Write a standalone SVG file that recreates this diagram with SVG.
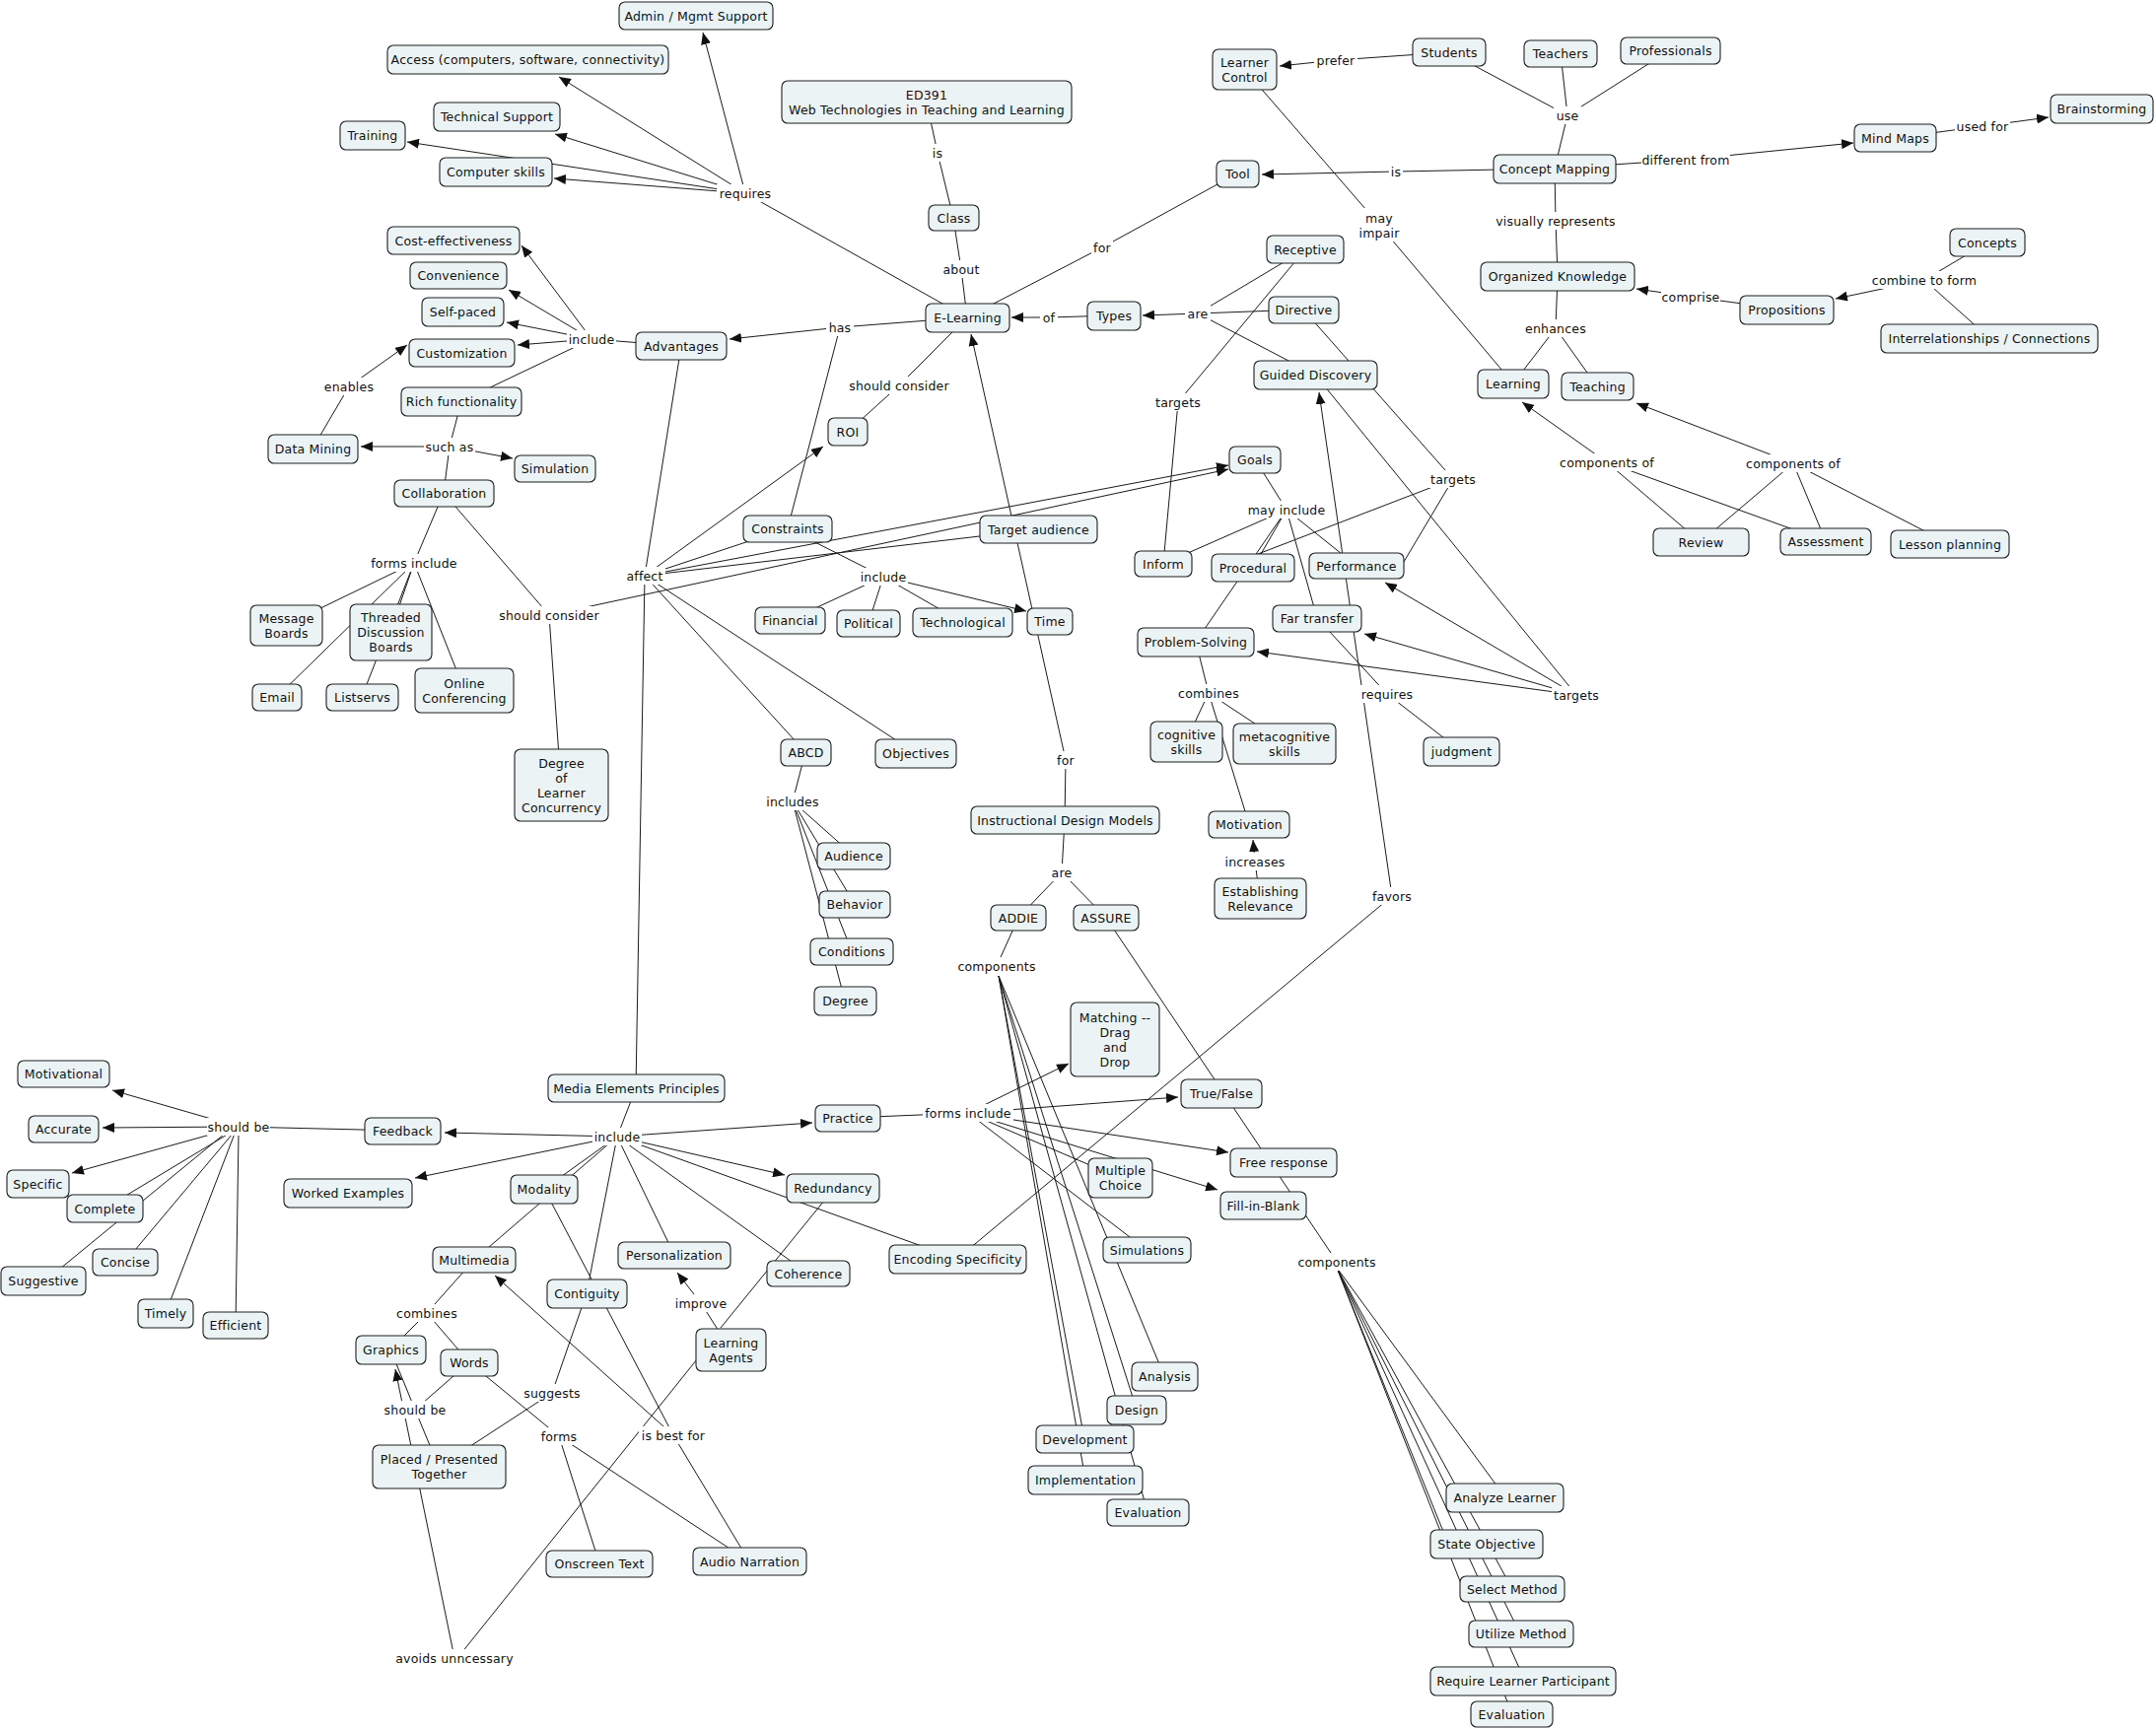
<svg xmlns="http://www.w3.org/2000/svg" width="2187" height="1754" viewBox="0 0 2187 1754">
<defs>
<marker id="ah" markerUnits="userSpaceOnUse" markerWidth="13" markerHeight="10" refX="12" refY="5" orient="auto"><path d="M0,0 L12,5 L0,10 z" fill="#111"/></marker>
<style>
.c{stroke:#1a1a1a;stroke-width:1;fill:none}
.a{marker-end:url(#ah)}
.node rect{fill:#ecf3f5;stroke:#1e1e1e;stroke-width:1.1}
.node text,.lbl text{font-family:"DejaVu Sans",Verdana,sans-serif;font-size:12.5px;letter-spacing:0.2px;text-anchor:middle;dominant-baseline:central;fill:#111}
.lbl rect{fill:#fff}
</style>
</defs>
<rect width="2187" height="1754" fill="#fff"/>
<g id="connectors">
<path class="c" d="M940,104 L951,155 M951,155 L967,221 M967,221 L975,273 M975,273 L981,322 M981,322 L756,196 M981,322 L852,332 M852,332 L799,536 M981,322 L912,391 M912,391 L860,438 M691,351 L600,344 M600,344 L468,407 M468,407 L456,453 M456,453 L450,500 M317,455 L354,392 M450,500 L420,571 M420,571 L290,634 M420,571 L396,641 M420,571 L281,707 M420,571 L367,707 M420,571 L471,700 M450,500 L557,624 M557,624 L569,796 M691,351 L654,584 M654,584 L645,1104 M654,584 L799,536 M654,584 L1053,537 M654,584 L817,763 M654,584 L929,764 M799,536 L896,585 M896,585 L801,629 M896,585 L881,632 M896,585 L976,631 M817,763 L804,813 M804,813 L866,868 M804,813 L867,917 M804,813 L864,965 M804,813 L857,1015"/>
<path class="c" d="M1255,176 L1118,251 M1118,251 L981,322 M1577,171 L1416,174 M1470,53 L1355,61 M1470,53 L1590,117 M1583,54 L1590,117 M1694,51 L1590,117 M1590,117 L1577,171 M1577,171 L1710,162 M1922,140 L2011,128 M1577,171 L1578,224 M1578,224 L1580,280 M1812,314 L1715,301 M2016,246 L1952,284 M2018,343 L1952,284 M1580,280 L1578,333 M1578,333 L1535,389 M1578,333 L1620,392 M1262,70 L1399,228 M1399,228 L1535,389 M1725,550 L1630,469 M1852,549 L1630,469 M1819,470 L1725,550 M1819,470 L1852,549 M1819,470 L1978,552 M1130,320 L1064,322 M1324,253 L1215,318 M1322,314 L1215,318 M1334,380 L1215,318 M1324,253 L1195,408 M1195,408 L1180,572 M1322,314 L1474,486 M1474,486 L1250,572 M1474,486 L1415,585 M1334,380 L1599,705 M1273,466 L1305,517 M1305,517 L1180,572 M1305,517 L1271,576 M1305,517 L1213,651 M1305,517 L1376,574 M1305,517 L1336,627 M1336,627 L1407,704 M1407,704 L1482,762 M1213,651 L1226,703 M1226,703 L1203,752 M1226,703 L1303,754 M1226,703 L1267,836 M1278,911 L1273,874 M1412,909 L971,1277"/>
<path class="c" d="M1080,832 L1081,771 M1080,832 L1077,885 M1077,885 L1033,931 M1077,885 L1122,931 M1033,931 L1011,980 M1013,990 L1181,1396 M1013,990 L1153,1430 M1013,990 L1100,1460 M1013,990 L1101,1501 M1013,990 L1164,1534 M1122,931 L1356,1280 M1356,1286 L1527,1519 M1356,1286 L1469,1566 M1356,1286 L1534,1612 M1356,1286 L1542,1657 M1356,1286 L1547,1705 M1356,1286 L1534,1739 M860,1134 L982,1129 M982,1129 L1136,1195 M982,1129 L1163,1268"/>
<path class="c" d="M645,1104 L626,1153 M626,1153 L552,1206 M626,1153 L481,1278 M626,1153 L595,1312 M626,1153 L684,1273 M626,1153 L820,1292 M626,1153 L971,1277 M408,1147 L242,1143 M232,1150 L106,1226 M228,1150 L50,1296 M236,1150 L127,1280 M238,1150 L168,1332 M242,1150 L239,1344 M481,1278 L433,1332 M433,1332 L396,1369 M433,1332 L476,1382 M476,1382 L421,1430 M396,1369 L421,1430 M421,1430 L445,1488 M595,1312 L560,1413 M560,1413 L445,1488 M476,1382 L567,1457 M567,1457 L608,1586 M567,1457 L760,1584 M552,1206 L683,1456 M683,1456 L760,1584 M741,1369 L711,1322 M715,1369 L468,1677 M731,1347 L845,1207"/>
<path class="c a" d="M756,196 L713,33"/>
<path class="c a" d="M756,196 L567,78"/>
<path class="c a" d="M756,196 L563,136"/>
<path class="c a" d="M756,196 L562,181"/>
<path class="c a" d="M756,196 L413,144"/>
<path class="c a" d="M852,332 L740,344"/>
<path class="c a" d="M600,344 L529,249"/>
<path class="c a" d="M600,344 L516,294"/>
<path class="c a" d="M600,344 L514,327"/>
<path class="c a" d="M600,344 L525,350"/>
<path class="c a" d="M354,392 L413,350"/>
<path class="c a" d="M456,453 L366,453"/>
<path class="c a" d="M456,453 L520,465"/>
<path class="c a" d="M654,584 L835,453"/>
<path class="c a" d="M654,584 L1246,472"/>
<path class="c a" d="M557,624 L1246,476"/>
<path class="c a" d="M896,585 L1041,620"/>
<path class="c a" d="M1081,771 L985,339"/>
<path class="c a" d="M1064,322 L1026,322"/>
<path class="c a" d="M1215,318 L1159,320"/>
<path class="c a" d="M1416,174 L1280,177"/>
<path class="c a" d="M1355,61 L1298,67"/>
<path class="c a" d="M1710,162 L1880,145"/>
<path class="c a" d="M2011,128 L2078,119"/>
<path class="c a" d="M1715,301 L1660,293"/>
<path class="c a" d="M1952,284 L1862,303"/>
<path class="c a" d="M1630,469 L1544,408"/>
<path class="c a" d="M1819,470 L1660,409"/>
<path class="c a" d="M1412,909 L1338,398"/>
<path class="c a" d="M1599,705 L1405,591"/>
<path class="c a" d="M1599,705 L1384,643"/>
<path class="c a" d="M1599,705 L1275,661"/>
<path class="c a" d="M1273,874 L1271,852"/>
<path class="c a" d="M982,1129 L1084,1079"/>
<path class="c a" d="M982,1129 L1195,1113"/>
<path class="c a" d="M982,1129 L1246,1169"/>
<path class="c a" d="M982,1129 L1235,1207"/>
<path class="c a" d="M626,1153 L451,1149"/>
<path class="c a" d="M626,1153 L421,1195"/>
<path class="c a" d="M626,1153 L796,1192"/>
<path class="c a" d="M626,1153 L824,1139"/>
<path class="c a" d="M242,1143 L114,1106"/>
<path class="c a" d="M242,1143 L104,1144"/>
<path class="c a" d="M242,1143 L73,1190"/>
<path class="c a" d="M683,1456 L502,1294"/>
<path class="c a" d="M711,1322 L687,1291"/>
<path class="c a" d="M461,1682 L401,1389"/>
</g>
<g id="labels">
<g class="lbl"><rect x="727" y="187" width="58" height="18"/><text x="756" y="196">requires</text></g>
<g class="lbl"><rect x="944" y="146" width="14" height="18"/><text x="951" y="155">is</text></g>
<g class="lbl"><rect x="954" y="264" width="42" height="18"/><text x="975" y="273">about</text></g>
<g class="lbl"><rect x="838" y="323" width="28" height="18"/><text x="852" y="332">has</text></g>
<g class="lbl"><rect x="575" y="335" width="50" height="18"/><text x="600" y="344">include</text></g>
<g class="lbl"><rect x="859" y="382" width="106" height="18"/><text x="912" y="391">should consider</text></g>
<g class="lbl"><rect x="1055" y="313" width="18" height="18"/><text x="1064" y="322">of</text></g>
<g class="lbl"><rect x="633" y="575" width="42" height="18"/><text x="654" y="584">affect</text></g>
<g class="lbl"><rect x="871" y="576" width="50" height="18"/><text x="896" y="585">include</text></g>
<g class="lbl"><rect x="328" y="383" width="52" height="18"/><text x="354" y="392">enables</text></g>
<g class="lbl"><rect x="430" y="444" width="52" height="18"/><text x="456" y="453">such as</text></g>
<g class="lbl"><rect x="374" y="562" width="92" height="18"/><text x="420" y="571">forms include</text></g>
<g class="lbl"><rect x="504" y="615" width="106" height="18"/><text x="557" y="624">should consider</text></g>
<g class="lbl"><rect x="1333" y="52" width="44" height="18"/><text x="1355" y="61">prefer</text></g>
<g class="lbl"><rect x="1576" y="108" width="28" height="18"/><text x="1590" y="117">use</text></g>
<g class="lbl"><rect x="1409" y="165" width="14" height="18"/><text x="1416" y="174">is</text></g>
<g class="lbl"><rect x="1376" y="211" width="46" height="34"/><text x="1399" y="221">may</text><text x="1399" y="236">impair</text></g>
<g class="lbl"><rect x="1107" y="242" width="22" height="18"/><text x="1118" y="251">for</text></g>
<g class="lbl"><rect x="1515" y="215" width="126" height="18"/><text x="1578" y="224">visually represents</text></g>
<g class="lbl"><rect x="1202" y="309" width="26" height="18"/><text x="1215" y="318">are</text></g>
<g class="lbl"><rect x="1547" y="324" width="62" height="18"/><text x="1578" y="333">enhances</text></g>
<g class="lbl"><rect x="1170" y="399" width="50" height="18"/><text x="1195" y="408">targets</text></g>
<g class="lbl"><rect x="1449" y="477" width="50" height="18"/><text x="1474" y="486">targets</text></g>
<g class="lbl"><rect x="1267" y="508" width="76" height="18"/><text x="1305" y="517">may include</text></g>
<g class="lbl"><rect x="1582" y="460" width="96" height="18"/><text x="1630" y="469">components of</text></g>
<g class="lbl"><rect x="1771" y="461" width="96" height="18"/><text x="1819" y="470">components of</text></g>
<g class="lbl"><rect x="1665" y="153" width="90" height="18"/><text x="1710" y="162">different from</text></g>
<g class="lbl"><rect x="1983" y="119" width="56" height="18"/><text x="2011" y="128">used for</text></g>
<g class="lbl"><rect x="1685" y="292" width="60" height="18"/><text x="1715" y="301">comprise</text></g>
<g class="lbl"><rect x="1900" y="275" width="104" height="18"/><text x="1952" y="284">combine to form</text></g>
<g class="lbl"><rect x="776" y="804" width="56" height="18"/><text x="804" y="813">includes</text></g>
<g class="lbl"><rect x="1070" y="762" width="22" height="18"/><text x="1081" y="771">for</text></g>
<g class="lbl"><rect x="1064" y="876" width="26" height="18"/><text x="1077" y="885">are</text></g>
<g class="lbl"><rect x="973" y="971" width="76" height="18"/><text x="1011" y="980">components</text></g>
<g class="lbl"><rect x="601" y="1144" width="50" height="18"/><text x="626" y="1153">include</text></g>
<g class="lbl"><rect x="936" y="1120" width="92" height="18"/><text x="982" y="1129">forms include</text></g>
<g class="lbl"><rect x="1195" y="694" width="62" height="18"/><text x="1226" y="703">combines</text></g>
<g class="lbl"><rect x="1378" y="695" width="58" height="18"/><text x="1407" y="704">requires</text></g>
<g class="lbl"><rect x="1574" y="696" width="50" height="18"/><text x="1599" y="705">targets</text></g>
<g class="lbl"><rect x="1242" y="865" width="62" height="18"/><text x="1273" y="874">increases</text></g>
<g class="lbl"><rect x="1390" y="900" width="44" height="18"/><text x="1412" y="909">favors</text></g>
<g class="lbl"><rect x="210" y="1134" width="64" height="18"/><text x="242" y="1143">should be</text></g>
<g class="lbl"><rect x="402" y="1323" width="62" height="18"/><text x="433" y="1332">combines</text></g>
<g class="lbl"><rect x="389" y="1421" width="64" height="18"/><text x="421" y="1430">should be</text></g>
<g class="lbl"><rect x="403" y="1673" width="116" height="18"/><text x="461" y="1682">avoids unncessary</text></g>
<g class="lbl"><rect x="531" y="1404" width="58" height="18"/><text x="560" y="1413">suggests</text></g>
<g class="lbl"><rect x="548" y="1448" width="38" height="18"/><text x="567" y="1457">forms</text></g>
<g class="lbl"><rect x="648" y="1447" width="70" height="18"/><text x="683" y="1456">is best for</text></g>
<g class="lbl"><rect x="684" y="1313" width="54" height="18"/><text x="711" y="1322">improve</text></g>
<g class="lbl"><rect x="1318" y="1271" width="76" height="18"/><text x="1356" y="1280">components</text></g>
</g>
<g id="nodes">
<g id="n-admin" class="node"><rect x="628" y="2" width="156" height="28" rx="6"/><text x="706" y="16">Admin / Mgmt Support</text></g>
<g id="n-access" class="node"><rect x="393" y="46" width="285" height="29" rx="6"/><text x="535.5" y="60.5">Access (computers, software, connectivity)</text></g>
<g id="n-techsupport" class="node"><rect x="440" y="104" width="128" height="29" rx="6"/><text x="504" y="118.5">Technical Support</text></g>
<g id="n-training" class="node"><rect x="345" y="123" width="66" height="29" rx="6"/><text x="378" y="137.5">Training</text></g>
<g id="n-compskills" class="node"><rect x="446" y="160" width="114" height="29" rx="6"/><text x="503" y="174.5">Computer skills</text></g>
<g id="n-ed391" class="node"><rect x="793" y="82" width="294" height="43" rx="6"/><text x="940" y="96">ED391</text><text x="940" y="111">Web Technologies in Teaching and Learning</text></g>
<g id="n-class" class="node"><rect x="942" y="208" width="51" height="26" rx="6"/><text x="967.5" y="221">Class</text></g>
<g id="n-elearning" class="node"><rect x="939" y="308" width="85" height="29" rx="6"/><text x="981.5" y="322.5">E-Learning</text></g>
<g id="n-costeff" class="node"><rect x="393" y="230" width="134" height="28" rx="6"/><text x="460" y="244">Cost-effectiveness</text></g>
<g id="n-convenience" class="node"><rect x="416" y="266" width="98" height="27" rx="6"/><text x="465" y="279.5">Convenience</text></g>
<g id="n-selfpaced" class="node"><rect x="428" y="302" width="83" height="29" rx="6"/><text x="469.5" y="316.5">Self-paced</text></g>
<g id="n-customization" class="node"><rect x="415" y="344" width="107" height="28" rx="6"/><text x="468.5" y="358">Customization</text></g>
<g id="n-richfunc" class="node"><rect x="407" y="393" width="122" height="29" rx="6"/><text x="468" y="407.5">Rich functionality</text></g>
<g id="n-advantages" class="node"><rect x="645" y="337" width="92" height="28" rx="6"/><text x="691" y="351">Advantages</text></g>
<g id="n-datamining" class="node"><rect x="272" y="441" width="91" height="29" rx="6"/><text x="317.5" y="455.5">Data Mining</text></g>
<g id="n-simulation" class="node"><rect x="522" y="462" width="82" height="27" rx="6"/><text x="563" y="475.5">Simulation</text></g>
<g id="n-collaboration" class="node"><rect x="400" y="487" width="101" height="27" rx="6"/><text x="450.5" y="500.5">Collaboration</text></g>
<g id="n-roi" class="node"><rect x="840" y="424" width="40" height="28" rx="6"/><text x="860" y="438">ROI</text></g>
<g id="n-constraints" class="node"><rect x="754" y="523" width="90" height="27" rx="6"/><text x="799" y="536.5">Constraints</text></g>
<g id="n-target" class="node"><rect x="994" y="523" width="119" height="28" rx="6"/><text x="1053.5" y="537">Target audience</text></g>
<g id="n-msgboards" class="node"><rect x="254" y="614" width="73" height="41" rx="6"/><text x="290.5" y="627">Message</text><text x="290.5" y="642">Boards</text></g>
<g id="n-threaded" class="node"><rect x="355" y="613" width="83" height="57" rx="6"/><text x="396.5" y="626.5">Threaded</text><text x="396.5" y="641.5">Discussion</text><text x="396.5" y="656.5">Boards</text></g>
<g id="n-email" class="node"><rect x="256" y="694" width="50" height="27" rx="6"/><text x="281" y="707.5">Email</text></g>
<g id="n-listservs" class="node"><rect x="331" y="694" width="73" height="27" rx="6"/><text x="367.5" y="707.5">Listservs</text></g>
<g id="n-online" class="node"><rect x="421" y="678" width="100" height="45" rx="6"/><text x="471" y="693">Online</text><text x="471" y="708">Conferencing</text></g>
<g id="n-degreelc" class="node"><rect x="522" y="760" width="95" height="73" rx="6"/><text x="569.5" y="774">Degree</text><text x="569.5" y="789">of</text><text x="569.5" y="804">Learner</text><text x="569.5" y="819">Concurrency</text></g>
<g id="n-financial" class="node"><rect x="766" y="616" width="71" height="27" rx="6"/><text x="801.5" y="629.5">Financial</text></g>
<g id="n-political" class="node"><rect x="849" y="619" width="64" height="27" rx="6"/><text x="881" y="632.5">Political</text></g>
<g id="n-technological" class="node"><rect x="926" y="617" width="101" height="29" rx="6"/><text x="976.5" y="631.5">Technological</text></g>
<g id="n-time" class="node"><rect x="1042" y="617" width="46" height="27" rx="6"/><text x="1065" y="630.5">Time</text></g>
<g id="n-abcd" class="node"><rect x="792" y="750" width="51" height="27" rx="6"/><text x="817.5" y="763.5">ABCD</text></g>
<g id="n-objectives" class="node"><rect x="888" y="750" width="82" height="29" rx="6"/><text x="929" y="764.5">Objectives</text></g>
<g id="n-audience" class="node"><rect x="829" y="855" width="74" height="27" rx="6"/><text x="866" y="868.5">Audience</text></g>
<g id="n-behavior" class="node"><rect x="831" y="904" width="72" height="27" rx="6"/><text x="867" y="917.5">Behavior</text></g>
<g id="n-conditions" class="node"><rect x="822" y="952" width="84" height="27" rx="6"/><text x="864" y="965.5">Conditions</text></g>
<g id="n-degree" class="node"><rect x="826" y="1001" width="63" height="29" rx="6"/><text x="857.5" y="1015.5">Degree</text></g>
<g id="n-idm" class="node"><rect x="985" y="818" width="191" height="28" rx="6"/><text x="1080.5" y="832">Instructional Design Models</text></g>
<g id="n-addie" class="node"><rect x="1005" y="918" width="56" height="26" rx="6"/><text x="1033" y="931">ADDIE</text></g>
<g id="n-assure" class="node"><rect x="1089" y="918" width="66" height="26" rx="6"/><text x="1122" y="931">ASSURE</text></g>
<g id="n-mep" class="node"><rect x="556" y="1090" width="179" height="28" rx="6"/><text x="645.5" y="1104">Media Elements Principles</text></g>
<g id="n-practice" class="node"><rect x="827" y="1121" width="66" height="27" rx="6"/><text x="860" y="1134.5">Practice</text></g>
<g id="n-learnerctrl" class="node"><rect x="1230" y="50" width="65" height="41" rx="6"/><text x="1262.5" y="63">Learner</text><text x="1262.5" y="78">Control</text></g>
<g id="n-students" class="node"><rect x="1433" y="39" width="74" height="28" rx="6"/><text x="1470" y="53">Students</text></g>
<g id="n-teachers" class="node"><rect x="1546" y="41" width="74" height="27" rx="6"/><text x="1583" y="54.5">Teachers</text></g>
<g id="n-professionals" class="node"><rect x="1644" y="38" width="101" height="27" rx="6"/><text x="1694.5" y="51.5">Professionals</text></g>
<g id="n-conceptmap" class="node"><rect x="1515" y="157" width="124" height="29" rx="6"/><text x="1577" y="171.5">Concept Mapping</text></g>
<g id="n-tool" class="node"><rect x="1234" y="163" width="43" height="27" rx="6"/><text x="1255.5" y="176.5">Tool</text></g>
<g id="n-mindmaps" class="node"><rect x="1881" y="126" width="83" height="28" rx="6"/><text x="1922.5" y="140">Mind Maps</text></g>
<g id="n-brainstorming" class="node"><rect x="2080" y="96" width="104" height="29" rx="6"/><text x="2132" y="110.5">Brainstorming</text></g>
<g id="n-orgknow" class="node"><rect x="1502" y="266" width="156" height="29" rx="6"/><text x="1580" y="280.5">Organized Knowledge</text></g>
<g id="n-concepts" class="node"><rect x="1978" y="232" width="76" height="28" rx="6"/><text x="2016" y="246">Concepts</text></g>
<g id="n-propositions" class="node"><rect x="1765" y="300" width="95" height="29" rx="6"/><text x="1812.5" y="314.5">Propositions</text></g>
<g id="n-interrel" class="node"><rect x="1908" y="329" width="220" height="29" rx="6"/><text x="2018" y="343.5">Interrelationships / Connections</text></g>
<g id="n-receptive" class="node"><rect x="1285" y="239" width="78" height="28" rx="6"/><text x="1324" y="253">Receptive</text></g>
<g id="n-types" class="node"><rect x="1103" y="306" width="54" height="29" rx="6"/><text x="1130" y="320.5">Types</text></g>
<g id="n-directive" class="node"><rect x="1287" y="301" width="71" height="27" rx="6"/><text x="1322.5" y="314.5">Directive</text></g>
<g id="n-guided" class="node"><rect x="1272" y="366" width="125" height="29" rx="6"/><text x="1334.5" y="380.5">Guided Discovery</text></g>
<g id="n-learning" class="node"><rect x="1499" y="375" width="72" height="29" rx="6"/><text x="1535" y="389.5">Learning</text></g>
<g id="n-teaching" class="node"><rect x="1584" y="378" width="73" height="28" rx="6"/><text x="1620.5" y="392">Teaching</text></g>
<g id="n-goals" class="node"><rect x="1247" y="453" width="52" height="27" rx="6"/><text x="1273" y="466.5">Goals</text></g>
<g id="n-inform" class="node"><rect x="1151" y="559" width="58" height="26" rx="6"/><text x="1180" y="572">Inform</text></g>
<g id="n-procedural" class="node"><rect x="1229" y="562" width="84" height="28" rx="6"/><text x="1271" y="576">Procedural</text></g>
<g id="n-performance" class="node"><rect x="1328" y="561" width="96" height="26" rx="6"/><text x="1376" y="574">Performance</text></g>
<g id="n-review" class="node"><rect x="1677" y="536" width="97" height="28" rx="6"/><text x="1725.5" y="550">Review</text></g>
<g id="n-assessment" class="node"><rect x="1806" y="536" width="92" height="27" rx="6"/><text x="1852" y="549.5">Assessment</text></g>
<g id="n-lessonplan" class="node"><rect x="1918" y="538" width="120" height="28" rx="6"/><text x="1978" y="552">Lesson planning</text></g>
<g id="n-fartransfer" class="node"><rect x="1291" y="614" width="90" height="27" rx="6"/><text x="1336" y="627.5">Far transfer</text></g>
<g id="n-probsolv" class="node"><rect x="1154" y="637" width="118" height="29" rx="6"/><text x="1213" y="651.5">Problem-Solving</text></g>
<g id="n-cogskills" class="node"><rect x="1167" y="732" width="73" height="41" rx="6"/><text x="1203.5" y="745">cognitive</text><text x="1203.5" y="760">skills</text></g>
<g id="n-metacog" class="node"><rect x="1251" y="734" width="104" height="41" rx="6"/><text x="1303" y="747">metacognitive</text><text x="1303" y="762">skills</text></g>
<g id="n-judgment" class="node"><rect x="1444" y="748" width="77" height="29" rx="6"/><text x="1482.5" y="762.5">judgment</text></g>
<g id="n-motivation" class="node"><rect x="1226" y="823" width="82" height="27" rx="6"/><text x="1267" y="836.5">Motivation</text></g>
<g id="n-estrel" class="node"><rect x="1232" y="891" width="93" height="41" rx="6"/><text x="1278.5" y="904">Establishing</text><text x="1278.5" y="919">Relevance</text></g>
<g id="n-matching" class="node"><rect x="1086" y="1017" width="90" height="75" rx="6"/><text x="1131" y="1032">Matching --</text><text x="1131" y="1047">Drag</text><text x="1131" y="1062">and</text><text x="1131" y="1077">Drop</text></g>
<g id="n-truefalse" class="node"><rect x="1198" y="1095" width="82" height="29" rx="6"/><text x="1239" y="1109.5">True/False</text></g>
<g id="n-freeresp" class="node"><rect x="1248" y="1165" width="108" height="29" rx="6"/><text x="1302" y="1179.5">Free response</text></g>
<g id="n-multchoice" class="node"><rect x="1104" y="1175" width="65" height="40" rx="6"/><text x="1136.5" y="1187.5">Multiple</text><text x="1136.5" y="1202.5">Choice</text></g>
<g id="n-fillblank" class="node"><rect x="1238" y="1209" width="87" height="28" rx="6"/><text x="1281.5" y="1223">Fill-in-Blank</text></g>
<g id="n-simulations" class="node"><rect x="1119" y="1255" width="89" height="26" rx="6"/><text x="1163.5" y="1268">Simulations</text></g>
<g id="n-analysis" class="node"><rect x="1148" y="1382" width="67" height="29" rx="6"/><text x="1181.5" y="1396.5">Analysis</text></g>
<g id="n-design" class="node"><rect x="1123" y="1416" width="60" height="29" rx="6"/><text x="1153" y="1430.5">Design</text></g>
<g id="n-development" class="node"><rect x="1051" y="1446" width="99" height="28" rx="6"/><text x="1100.5" y="1460">Development</text></g>
<g id="n-implementation" class="node"><rect x="1043" y="1487" width="116" height="29" rx="6"/><text x="1101" y="1501.5">Implementation</text></g>
<g id="n-evaluation1" class="node"><rect x="1123" y="1521" width="83" height="27" rx="6"/><text x="1164.5" y="1534.5">Evaluation</text></g>
<g id="n-analyzelearner" class="node"><rect x="1467" y="1505" width="119" height="29" rx="6"/><text x="1526.5" y="1519.5">Analyze Learner</text></g>
<g id="n-stateobj" class="node"><rect x="1451" y="1552" width="114" height="29" rx="6"/><text x="1508" y="1566.5">State Objective</text></g>
<g id="n-selectmethod" class="node"><rect x="1481" y="1599" width="106" height="26" rx="6"/><text x="1534" y="1612">Select Method</text></g>
<g id="n-utilize" class="node"><rect x="1490" y="1644" width="106" height="27" rx="6"/><text x="1543" y="1657.5">Utilize Method</text></g>
<g id="n-requirelp" class="node"><rect x="1451" y="1691" width="188" height="29" rx="6"/><text x="1545" y="1705.5">Require Learner Participant</text></g>
<g id="n-evaluation2" class="node"><rect x="1492" y="1726" width="83" height="26" rx="6"/><text x="1533.5" y="1739">Evaluation</text></g>
<g id="n-motivational" class="node"><rect x="18" y="1076" width="93" height="27" rx="6"/><text x="64.5" y="1089.5">Motivational</text></g>
<g id="n-accurate" class="node"><rect x="29" y="1132" width="71" height="27" rx="6"/><text x="64.5" y="1145.5">Accurate</text></g>
<g id="n-feedback" class="node"><rect x="370" y="1134" width="77" height="27" rx="6"/><text x="408.5" y="1147.5">Feedback</text></g>
<g id="n-specific" class="node"><rect x="7" y="1187" width="63" height="28" rx="6"/><text x="38.5" y="1201">Specific</text></g>
<g id="n-complete" class="node"><rect x="68" y="1212" width="77" height="28" rx="6"/><text x="106.5" y="1226">Complete</text></g>
<g id="n-suggestive" class="node"><rect x="1" y="1285" width="86" height="29" rx="6"/><text x="44" y="1299.5">Suggestive</text></g>
<g id="n-concise" class="node"><rect x="94" y="1267" width="66" height="27" rx="6"/><text x="127" y="1280.5">Concise</text></g>
<g id="n-timely" class="node"><rect x="140" y="1318" width="56" height="29" rx="6"/><text x="168" y="1332.5">Timely</text></g>
<g id="n-efficient" class="node"><rect x="206" y="1331" width="66" height="27" rx="6"/><text x="239" y="1344.5">Efficient</text></g>
<g id="n-worked" class="node"><rect x="288" y="1196" width="130" height="29" rx="6"/><text x="353" y="1210.5">Worked Examples</text></g>
<g id="n-modality" class="node"><rect x="518" y="1192" width="68" height="29" rx="6"/><text x="552" y="1206.5">Modality</text></g>
<g id="n-multimedia" class="node"><rect x="439" y="1265" width="84" height="26" rx="6"/><text x="481" y="1278">Multimedia</text></g>
<g id="n-graphics" class="node"><rect x="361" y="1355" width="71" height="29" rx="6"/><text x="396.5" y="1369.5">Graphics</text></g>
<g id="n-words" class="node"><rect x="447" y="1369" width="58" height="27" rx="6"/><text x="476" y="1382.5">Words</text></g>
<g id="n-placed" class="node"><rect x="378" y="1466" width="135" height="44" rx="6"/><text x="445.5" y="1480.5">Placed / Presented</text><text x="445.5" y="1495.5">Together</text></g>
<g id="n-redundancy" class="node"><rect x="798" y="1191" width="94" height="29" rx="6"/><text x="845" y="1205.5">Redundancy</text></g>
<g id="n-personalization" class="node"><rect x="627" y="1260" width="114" height="27" rx="6"/><text x="684" y="1273.5">Personalization</text></g>
<g id="n-coherence" class="node"><rect x="778" y="1279" width="84" height="26" rx="6"/><text x="820" y="1292">Coherence</text></g>
<g id="n-encoding" class="node"><rect x="902" y="1263" width="139" height="29" rx="6"/><text x="971.5" y="1277.5">Encoding Specificity</text></g>
<g id="n-contiguity" class="node"><rect x="555" y="1298" width="81" height="29" rx="6"/><text x="595.5" y="1312.5">Contiguity</text></g>
<g id="n-learningagents" class="node"><rect x="706" y="1348" width="71" height="43" rx="6"/><text x="741.5" y="1362">Learning</text><text x="741.5" y="1377">Agents</text></g>
<g id="n-onscreen" class="node"><rect x="554" y="1573" width="108" height="27" rx="6"/><text x="608" y="1586.5">Onscreen Text</text></g>
<g id="n-audionarr" class="node"><rect x="703" y="1570" width="115" height="28" rx="6"/><text x="760.5" y="1584">Audio Narration</text></g>
</g>
</svg>
